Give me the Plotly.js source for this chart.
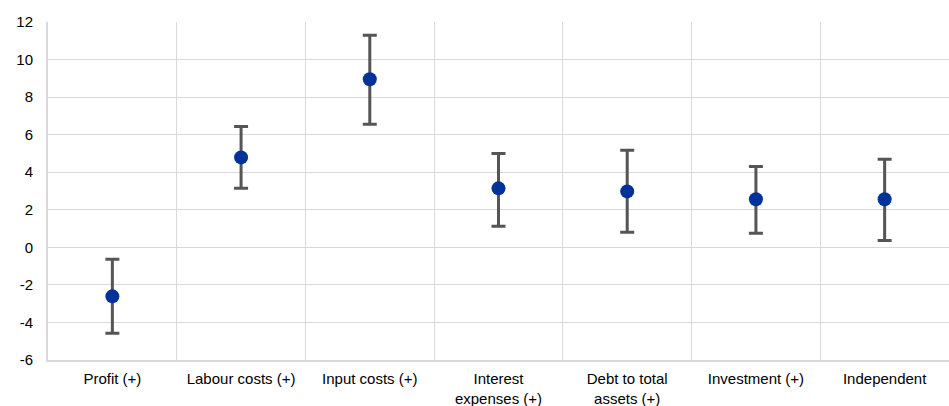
<!DOCTYPE html>
<html>
<head>
<meta charset="utf-8">
<script src="https://cdn.plot.ly/plotly-3.0.1.min.js"></script>
<style>html,body{margin:0;padding:0;background:#fff;}#chart{width:949px;height:406px;}</style>
</head>
<body>
<div id="chart"></div>
<script>
const categories = ["Profit (+)", "Labour costs (+)", "Input costs (+)", "Interest<br>expenses (+)", "Debt to total<br>assets (+)", "Investment (+)", "Independent"];
const estimates = [-2.61, 4.79, 8.95, 3.14, 2.98, 2.56, 2.56];
const upperBound = [-0.64, 6.44, 11.29, 5.0, 5.17, 4.31, 4.69];
const lowerBound = [-4.58, 3.14, 6.55, 1.12, 0.8, 0.75, 0.37];
const yTicks = [-6, -4, -2, 0, 2, 4, 6, 8, 10, 12];

const errPlus = estimates.map((v, i) => upperBound[i] - v);
const errMinus = estimates.map((v, i) => v - lowerBound[i]);

const trace = {
  type: "scatter",
  mode: "markers",
  x: categories,
  y: estimates,
  marker: {color: "#003299", size: 14},
  error_y: {type: "data", symmetric: false, array: errPlus, arrayminus: errMinus, color: "#555555", thickness: 3, width: 7},
  hoverinfo: "skip",
  showlegend: false
};

const layout = {
  width: 949, height: 406,
  margin: {l: 48, r: 0, t: 22, b: 46},
  paper_bgcolor: "#ffffff", plot_bgcolor: "#ffffff",
  font: {family: "Liberation Sans, Arial, sans-serif", size: 15, color: "#000000"},
  xaxis: {
    type: "category", tickson: "boundaries", showgrid: true, gridcolor: "#d9d9d9", gridwidth: 1,
    showline: true, linecolor: "#d9d9d9", linewidth: 2, ticks: "", tickfont: {size: 15},
    ticklabelstandoff: 4,
    range: [-0.5, 6.5], fixedrange: true
  },
  yaxis: {
    range: [-6, 12], tickvals: yTicks, ticktext: yTicks.map(String),
    showgrid: true, gridcolor: "#d9d9d9", gridwidth: 1, zeroline: false,
    showline: true, linecolor: "#d9d9d9", linewidth: 2, ticks: "", ticklabelstandoff: 10,
    tickfont: {size: 15}, fixedrange: true
  }
};

Plotly.newPlot("chart", [trace], layout, {displayModeBar: false, staticPlot: true});
</script>
</body>
</html>
